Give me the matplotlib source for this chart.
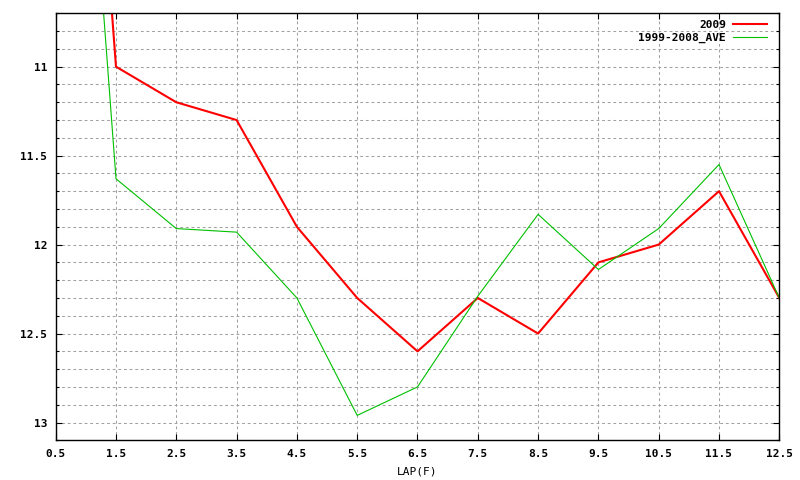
import matplotlib
matplotlib.use("Agg")
import matplotlib.pyplot as plt
from matplotlib.ticker import MultipleLocator, FormatStrFormatter

# lap positions and lap times
laps = [0.5, 1.5, 2.5, 3.5, 4.5, 5.5, 6.5, 7.5, 8.5, 9.5, 10.5, 11.5, 12.5]
y2009 = [6.5, 11.0, 11.2, 11.3, 11.9, 12.3, 12.6, 12.3, 12.5, 12.1, 12.0, 11.7, 12.3]
y_ave = [7.1, 11.63, 11.91, 11.93, 12.3, 12.96, 12.8, 12.29, 11.83, 12.14, 11.91, 11.55, 12.3]
x_ticks = laps
y_ticks = [11, 11.5, 12, 12.5, 13]

plt.rcParams['font.family'] = ['DejaVu Sans Mono']
plt.rcParams['font.weight'] = 'bold'
plt.rcParams['font.size'] = 8

fig = plt.figure(figsize=(8, 4.8), dpi=100)
ax = fig.add_axes([55.7 / 800, 1 - 440.3 / 480, (779.3 - 55.7) / 800, (440.3 - 13.3) / 480])

ax.plot(laps, y2009, color='#ff0000', lw=1.5, label='2009')
ax.plot(laps, y_ave, color='#00c000', lw=0.8, label='1999-2008_AVE')

ax.set_xlim(0.5, 12.5)
ax.set_ylim(13.1, 10.7)
ax.set_xticks(x_ticks)
ax.xaxis.set_major_formatter(FormatStrFormatter('%.1f'))
ax.set_yticks(y_ticks)
ax.yaxis.set_major_formatter(FormatStrFormatter('%g'))
ax.yaxis.set_minor_locator(MultipleLocator(0.1))

ax.tick_params(which='both', direction='in', top=True, right=True, width=0.8, color='black')
ax.tick_params(which='major', length=4, pad=6)
ax.tick_params(which='minor', length=2.2)

grid_style = dict(color='#a0a0a0', lw=0.75, linestyle=(0, (2.7, 2.7)))
ax.grid(which='major', axis='x', **grid_style)
ax.grid(which='both', axis='y', **grid_style)
ax.set_axisbelow(True)

for s in ax.spines.values():
    s.set_linewidth(1.0)
    s.set_color('black')

ax.set_xlabel('LAP(F)', labelpad=6)

ax.legend(loc='upper right', bbox_to_anchor=(0.983, 0.985), frameon=False,
          markerfirst=False, borderaxespad=0, borderpad=0, handlelength=3.1,
          handletextpad=0.6, labelspacing=0.3)

fig.savefig('out.png', dpi=100)
